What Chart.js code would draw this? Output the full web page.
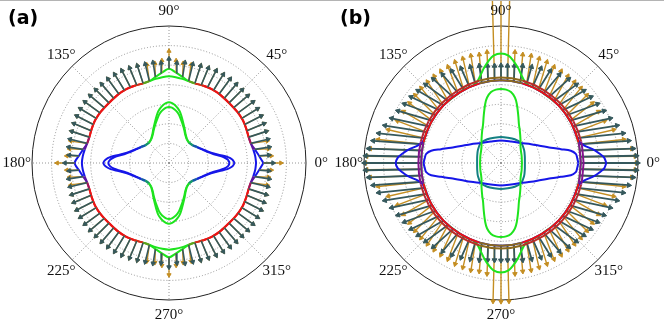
<!DOCTYPE html>
<html>
<head>
<meta charset="utf-8">
<script src="https://cdn.jsdelivr.net/npm/chart.js@4/dist/chart.umd.min.js"></script>
<style>
  body { margin: 0; background: #fff; width: 664px; height: 327px; overflow: hidden; position: relative; }
  #wrap { display: flex; }
  canvas { display: block; }
  #topline { position: absolute; left: 0; top: 0; width: 664px; height: 1px; background: #b4b4b4; }
</style>
</head>
<body>
<div id="wrap">
  <canvas id="chartA" width="332" height="327"></canvas>
  <canvas id="chartB" width="332" height="327"></canvas>
</div>
<div id="topline"></div>
<script>
// polar axis
var angleTicks = [0, 45, 90, 135, 180, 225, 270, 315];
var tickLabels = ["0°", "45°", "90°", "135°", "180°", "225°", "270°", "315°"];
var ringValues = [1, 2, 3, 4, 5, 6];
var rMax = 7;

// radii are in ring units, angles are measured from the horizontal axis (one quadrant, mirrored)
// ---- panel (a) ----
var A_OUTER_ANG = [0, 4.5, 9, 13.5, 18, 24, 30, 37, 45, 53, 60, 66, 72, 76.5, 81, 85.5, 90];
var A_OUTER_1 = [4.82, 4.62, 4.44, 4.3, 4.28, 4.32, 4.36, 4.36, 4.34, 4.36, 4.36, 4.32, 4.28, 4.3, 4.45, 4.63, 4.82];
var A_OUTER_2 = [4.45, 4.42, 4.36, 4.3, 4.28, 4.32, 4.36, 4.36, 4.34, 4.36, 4.36, 4.32, 4.28, 4.3, 4.35, 4.4, 4.43];

var A_STAR_ANG = [0, 3, 6, 9, 12, 15, 20, 25, 30, 37, 45, 53, 60, 65, 70, 75, 78, 81, 84, 87, 90];
var A_STAR_1 = [3.35, 3.25, 3.0, 2.62, 2.34, 2.15, 1.93, 1.77, 1.65, 1.52, 1.47, 1.53, 1.7, 1.9, 2.15, 2.47, 2.68, 2.84, 2.97, 3.06, 3.1];
var A_STAR_2 = [3.1, 3.02, 2.82, 2.52, 2.28, 2.1, 1.9, 1.75, 1.63, 1.5, 1.45, 1.51, 1.66, 1.85, 2.07, 2.32, 2.5, 2.64, 2.75, 2.83, 2.86];

var ARROW_ANG = [0, 4.5, 9, 13.5, 18, 22.5, 27, 31.5, 36, 40.5, 45, 49.5, 54, 58.5, 63, 67.5, 72, 76.5, 81, 85.5, 90];
var A_ARROW_BASE = [4.82, 4.62, 4.44, 4.3, 4.28, 4.31, 4.34, 4.36, 4.36, 4.35, 4.34, 4.35, 4.36, 4.36, 4.35, 4.31, 4.28, 4.3, 4.45, 4.63, 4.82];
var A_DARK_DIR = [0, 4.5, 9, 13.5, 18, 22.5, 27, 31.5, 36, 40.5, 45, 49.5, 54, 58.5, 63, 67.5, 72, 76.5, 81, 85.5, 90];
var A_DARK_LEN = [0.5, 0.5, 0.75, 0.9, 0.95, 0.95, 0.95, 0.95, 0.95, 0.95, 0.95, 0.95, 0.95, 0.95, 0.95, 0.95, 0.95, 0.9, 0.75, 0.5, 0.5];
var A_ORANGE_DIR = [0, 0, 2, 8, 18, 22.5, 27, 31.5, 36, 40.5, 45, 49.5, 54, 58.5, 63, 67.5, 72, 82, 88, 90, 90];
var A_ORANGE_LEN = [0.9, 0.62, 0.7, 0.85, 0.95, 0.95, 0.95, 0.95, 0.95, 0.95, 0.95, 0.95, 0.95, 0.95, 0.95, 0.95, 0.95, 0.85, 0.7, 0.62, 0.9];

// ---- panel (b) ----
var B_CIRCLE_ANG = [0, 15, 30, 45, 60, 75, 90];
var B_CIRCLE = [4.08, 4.1, 4.13, 4.16, 4.18, 4.21, 4.23];
var B_CIRCLE_OUT = [4.22, 4.24, 4.27, 4.3, 4.32, 4.35, 4.37];

var B_BLUE_OUT_ANG = [0, 3, 5, 8, 12, 15, 20, 30, 45, 60, 75, 90];
var B_BLUE_OUT = [5.38, 5.28, 5.1, 4.8, 4.33, 4.15, 4.1, 4.13, 4.16, 4.18, 4.21, 4.23];
var B_GREEN_OUT_ANG = [0, 15, 30, 45, 60, 65, 71, 74, 77, 80, 83, 86, 90];
var B_GREEN_OUT = [4.08, 4.1, 4.13, 4.16, 4.18, 4.2, 4.22, 4.35, 4.62, 4.95, 5.25, 5.5, 5.6];

var B_GREEN_IN_ANG = [0, 10, 20, 30, 40, 50, 60, 65, 70, 75, 78, 82, 86, 90];
var B_GREEN_IN = [1.07, 1.08, 1.12, 1.18, 1.3, 1.55, 1.92, 2.17, 2.58, 3.12, 3.42, 3.66, 3.76, 3.78];
var B_BLUE_IN_ANG = [0, 4, 7, 10, 13, 17, 23, 32, 45, 65, 90];
var B_BLUE_IN = [3.95, 3.9, 3.85, 3.62, 3.14, 2.67, 2.22, 1.81, 1.44, 1.21, 1.15];
var B_TEAL_ANG = [0, 15, 30, 45, 60, 75, 90];
var B_TEAL = [1.22, 1.26, 1.36, 1.45, 1.4, 1.34, 1.33];

var B_ARROW_BASE = [4.08, 4.08, 4.09, 4.1, 4.11, 4.12, 4.13, 4.14, 4.15, 4.16, 4.16, 4.17, 4.18, 4.18, 4.19, 4.2, 4.21, 4.21, 4.22, 4.23, 4.23];
var B_DARK_DIR = [0, 1, 2, 4, 6, 9, 12, 16, 20, 25, 30, 36, 42, 50, 58, 66, 74, 82, 88, 90, 90];
var B_DARK_LEN = [2.9, 2.85, 2.72, 2.55, 2.35, 2.15, 1.95, 1.8, 1.68, 1.58, 1.5, 1.42, 1.35, 1.25, 1.15, 1.05, 0.95, 0.88, 0.8, 0.75, 0.75];
var B_ORANGE_DIR = [0, 0.5, 2, 6, 13, 21, 30, 38, 45, 51, 56, 61, 65, 69, 73, 77, 81, 85, 88, 88.5, 90];
var B_ORANGE_LEN_UP = [2.85, 2.8, 2.65, 2.3, 1.9, 1.6, 1.5, 1.45, 1.45, 1.45, 1.45, 1.45, 1.45, 1.45, 1.5, 1.5, 1.5, 1.45, 1.5, 4.4, 4.4];
var B_ORANGE_LEN_DOWN = [2.85, 2.8, 2.65, 2.3, 1.9, 1.6, 1.5, 1.45, 1.45, 1.45, 1.45, 1.45, 1.45, 1.45, 1.5, 1.5, 1.5, 1.45, 1.5, 2.85, 2.85];

// colours
var BLUE = [22, 22, 232], GREEN = [30, 228, 30], RED = [236, 20, 20], TEAL = [20, 128, 130],
    PURPLE = [130, 20, 140], BROWN = [140, 105, 30], DARKRED = [185, 45, 40];
var DARK_ARROW = '#35585c', ORANGE_ARROW = '#c48e22';

var DEG = Math.PI / 180;

// closed loop from one quadrant, mirrored on both axes
function loop(ang, rad) {
  var pts = [], n = ang.length, i;
  for (i = 0; i < n; i++) pts.push([ang[i], rad[i]]);
  for (i = n - 2; i >= 0; i--) pts.push([180 - ang[i], rad[i]]);
  for (i = 1; i < n; i++) pts.push([180 + ang[i], rad[i]]);
  for (i = n - 2; i >= 0; i--) pts.push([360 - ang[i], rad[i]]);
  return pts.map(function (p) {
    return { x: p[1] * Math.cos(p[0] * DEG), y: p[1] * Math.sin(p[0] * DEG) };
  });
}

// arrows: base point, tip point, gap
function quiver(ang, base, dir, len, lenDown) {
  var out = [];
  lenDown = lenDown || len;
  function add(theta, r, phi, L) {
    var bx = r * Math.cos(theta * DEG), by = r * Math.sin(theta * DEG);
    out.push({ x: bx, y: by });
    out.push({ x: bx + L * Math.cos(phi * DEG), y: by + L * Math.sin(phi * DEG), head: true, rot: 90 - phi });
    out.push({ x: NaN, y: NaN });
  }
  var n = ang.length, i;
  for (i = 0; i < n; i++) add(ang[i], base[i], dir[i], len[i]);
  for (i = n - 2; i >= 0; i--) add(180 - ang[i], base[i], 180 - dir[i], len[i]);
  for (i = 1; i < n; i++) add(180 + ang[i], base[i], 180 + dir[i], lenDown[i]);
  for (i = n - 2; i > 0; i--) add(360 - ang[i], base[i], 360 - dir[i], lenDown[i]);
  return out;
}

function rgbAt(stops, a) {
  if (a <= stops[0][0]) return 'rgb(' + stops[0][1].join(',') + ')';
  for (var i = 1; i < stops.length; i++) {
    if (a <= stops[i][0]) {
      var f = (a - stops[i - 1][0]) / (stops[i][0] - stops[i - 1][0]);
      var c0 = stops[i - 1][1], c1 = stops[i][1];
      return 'rgb(' + [0, 1, 2].map(function (k) { return Math.round(c0[k] + f * (c1[k] - c0[k])); }).join(',') + ')';
    }
  }
  return 'rgb(' + stops[stops.length - 1][1].join(',') + ')';
}
function fold(x, y) {
  var a = Math.abs(Math.atan2(y, x)) / DEG;
  return a > 90 ? 180 - a : a;
}

function curve(data, stops, order) {
  return {
    type: 'line', data: data, order: order,
    borderWidth: 2, tension: 0.3, pointRadius: 0, fill: false,
    borderColor: rgbAt(stops, 45),
    segment: {
      borderColor: function (ctx) {
        var p0 = ctx.p0.parsed, p1 = ctx.p1.parsed;
        return rgbAt(stops, fold((p0.x + p1.x) / 2, (p0.y + p1.y) / 2));
      }
    }
  };
}

function arrows(data, colour, width, head, order) {
  return {
    type: 'line', data: data, order: order, clip: false,
    borderColor: colour, borderWidth: width, tension: 0, fill: false,
    pointStyle: 'triangle',
    pointRadius: function (ctx) { return ctx.raw && ctx.raw.head ? head : 0; },
    pointRotation: function (ctx) { return ctx.raw && ctx.raw.rot !== undefined ? ctx.raw.rot : 0; },
    pointBackgroundColor: colour, pointBorderColor: colour, pointBorderWidth: 1
  };
}

var polarGrid = {
  id: 'polarGrid',
  beforeDatasetsDraw: function (chart) {
    var ctx = chart.ctx, xs = chart.scales.x, ys = chart.scales.y;
    var cx = xs.getPixelForValue(0), cy = ys.getPixelForValue(0);
    var unit = xs.getPixelForValue(1) - cx;
    ctx.save();
    ctx.strokeStyle = '#8a8a8a';
    ctx.lineWidth = 0.9;
    ctx.setLineDash([1, 2]);
    ringValues.forEach(function (r) {
      ctx.beginPath();
      ctx.arc(cx, cy, r * unit, 0, 2 * Math.PI);
      ctx.stroke();
    });
    angleTicks.forEach(function (a) {
      ctx.beginPath();
      ctx.moveTo(cx, cy);
      ctx.lineTo(cx + rMax * unit * Math.cos(a * DEG), cy - rMax * unit * Math.sin(a * DEG));
      ctx.stroke();
    });
    ctx.setLineDash([]);
    ctx.strokeStyle = '#222';
    ctx.lineWidth = 1;
    ctx.beginPath();
    ctx.arc(cx, cy, rMax * unit, 0, 2 * Math.PI);
    ctx.stroke();
    ctx.restore();
  },
  afterDraw: function (chart, args, opts) {
    var ctx = chart.ctx, xs = chart.scales.x, ys = chart.scales.y;
    var cx = xs.getPixelForValue(0), cy = ys.getPixelForValue(0);
    var unit = xs.getPixelForValue(1) - cx;
    ctx.save();
    ctx.fillStyle = '#111';
    ctx.font = '15px "Liberation Serif"';
    ctx.textAlign = 'center';
    ctx.textBaseline = 'middle';
    angleTicks.forEach(function (a, i) {
      ctx.fillText(tickLabels[i], cx + 7.78 * unit * Math.cos(a * DEG), cy - 7.78 * unit * Math.sin(a * DEG));
    });
    ctx.font = 'bold 19px "DejaVu Sans"';
    ctx.textAlign = 'left';
    ctx.textBaseline = 'alphabetic';
    ctx.fillStyle = '#000';
    ctx.fillText(opts.label, 8, 24);
    ctx.restore();
  }
};

function makeChart(id, label, datasets) {
  return new Chart(document.getElementById(id), {
    type: 'scatter',
    data: { datasets: datasets },
    options: {
      responsive: false,
      animation: false,
      devicePixelRatio: 1,
      events: [],
      layout: { padding: { left: 32, right: 26, top: 26, bottom: 27 } },
      scales: {
        x: { type: 'linear', min: -rMax, max: rMax, display: false },
        y: { type: 'linear', min: -rMax, max: rMax, display: false }
      },
      plugins: {
        legend: { display: false },
        tooltip: { enabled: false },
        polarGrid: { label: label }
      }
    },
    plugins: [polarGrid]
  });
}

var OUTER_A_STOPS = [[0, BLUE], [7, BLUE], [20, RED], [68, RED], [77, GREEN], [90, GREEN]];
var STAR_A_STOPS = [[0, BLUE], [25, BLUE], [38, TEAL], [50, GREEN], [90, GREEN]];

makeChart('chartA', '(a)', [
  arrows(quiver(ARROW_ANG, A_ARROW_BASE, A_DARK_DIR, A_DARK_LEN), DARK_ARROW, 1.6, 2.6, 1),
  arrows(quiver(ARROW_ANG, A_ARROW_BASE, A_ORANGE_DIR, A_ORANGE_LEN), ORANGE_ARROW, 1.3, 2.4, 2),
  curve(loop(A_OUTER_ANG, A_OUTER_1), OUTER_A_STOPS, 3),
  curve(loop(A_OUTER_ANG, A_OUTER_2), OUTER_A_STOPS, 4),
  curve(loop(A_STAR_ANG, A_STAR_1), STAR_A_STOPS, 5),
  curve(loop(A_STAR_ANG, A_STAR_2), STAR_A_STOPS, 6)
]);

var CIRCLE_B_STOPS = [[0, PURPLE], [12, PURPLE], [22, RED], [70, RED], [80, BROWN], [90, BROWN]];
var CIRCLE_B_OUT_STOPS = [[0, PURPLE], [14, PURPLE], [24, DARKRED], [70, DARKRED], [80, BROWN], [90, BROWN]];

makeChart('chartB', '(b)', [
  curve(loop(B_CIRCLE_ANG, B_CIRCLE), CIRCLE_B_STOPS, 0),
  curve(loop(B_CIRCLE_ANG, B_CIRCLE_OUT), CIRCLE_B_OUT_STOPS, 1),
  curve(loop(B_BLUE_OUT_ANG, B_BLUE_OUT), [[0, BLUE], [90, BLUE]], 2),
  curve(loop(B_GREEN_OUT_ANG, B_GREEN_OUT), [[0, GREEN], [90, GREEN]], 3),
  arrows(quiver(ARROW_ANG, B_ARROW_BASE, B_DARK_DIR, B_DARK_LEN), DARK_ARROW, 1.8, 2.8, 4),
  arrows(quiver(ARROW_ANG, B_ARROW_BASE, B_ORANGE_DIR, B_ORANGE_LEN_UP, B_ORANGE_LEN_DOWN), ORANGE_ARROW, 1.4, 2.6, 5),
  curve(loop(B_GREEN_IN_ANG, B_GREEN_IN), [[0, GREEN], [90, GREEN]], 6),
  curve(loop(B_BLUE_IN_ANG, B_BLUE_IN), [[0, BLUE], [90, BLUE]], 7),
  curve(loop(B_TEAL_ANG, B_TEAL), [[0, TEAL], [90, TEAL]], 8)
]);
</script>
</body>
</html>
